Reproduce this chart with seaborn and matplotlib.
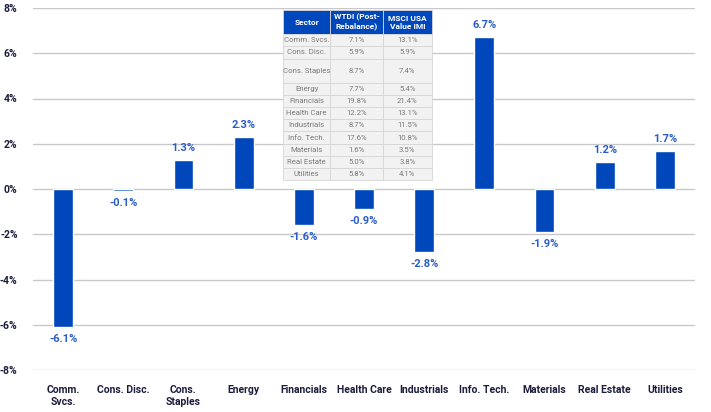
import matplotlib
matplotlib.use("Agg")
import matplotlib.pyplot as plt
import seaborn as sns
import pandas as pd

# sector active weights (WTDI minus benchmark)
sectors = ["Comm.\nSvcs.", "Cons. Disc.", "Cons.\nStaples", "Energy", "Financials",
           "Health Care", "Industrials", "Info. Tech.", "Materials", "Real Estate", "Utilities"]
diff = [-6.1, -0.1, 1.3, 2.3, -1.6, -0.9, -2.8, 6.7, -1.9, 1.2, 1.7]

# inset table
tbl_sectors = ["Comm. Svcs.", "Cons. Disc.", "Cons. Staples", "Energy", "Financials",
               "Health Care", "Industrials", "Info. Tech.", "Materials", "Real Estate", "Utilities"]
wtdi = ["7.1%", "5.9%", "8.7%", "7.7%", "19.8%", "12.2%", "8.7%", "17.6%", "1.6%", "5.0%", "5.8%"]
msci = ["13.1%", "5.9%", "7.4%", "5.4%", "21.4%", "13.1%", "11.5%", "10.8%", "3.5%", "3.8%", "4.1%"]
tbl_header = ["Sector", "WTDI (Post-\nRebalance)", "MSCI USA\nValue IMI"]

blue = "#0047BB"
navy = "#1c1c3c"

sns.set_style("white")
plt.rcParams['font.family'] = ['Roboto', 'DejaVu Sans']
plt.rcParams['font.weight'] = 'bold'

df = pd.DataFrame({"sector": sectors, "diff": diff})

fig = plt.figure(figsize=(7.11, 4.12), dpi=100)
ax = fig.add_axes([33/711, 1-370/412, (695-33)/711, (370-8)/412])

sns.barplot(data=df, x="sector", y="diff", color=blue, width=0.33,
            saturation=1, ax=ax, zorder=3)

ax.set_ylim(-8, 8)
ax.set_xlim(-0.5, len(sectors) - 0.5)
ax.set_yticks(range(-8, 9, 2))
ax.set_yticklabels([f"{v}%" for v in range(-8, 9, 2)])
ax.grid(axis="y", color="#c8c8cc", linewidth=1, zorder=0)
ax.set_axisbelow(True)
for s in ax.spines.values():
    s.set_visible(False)
ax.set_xlabel("")
ax.set_ylabel("")
ax.tick_params(axis="both", length=0, labelcolor=navy, labelsize=7.5)
ax.tick_params(axis="x", pad=11)
ax.tick_params(axis="y", pad=11)
for lab in ax.get_xticklabels() + ax.get_yticklabels():
    lab.set_fontweight("bold")

ax.bar_label(ax.containers[0], labels=[f"{v:.1f}%" for v in diff], padding=5,
             color="#2a5cc8", fontsize=8, fontweight="bold")

# inset table
tax = fig.add_axes([283/711, 1-180/412, (432-283)/711, (180-10)/412])
tax.axis("off")
cells = [[s, w, m] for s, w, m in zip(tbl_sectors, wtdi, msci)]
table = tax.table(cellText=cells, colLabels=tbl_header, bbox=[0, 0, 1, 1],
                  cellLoc="center")
table.auto_set_font_size(False)
col_w = [47, 52, 49]
for (r, c), cell in table.get_celld().items():
    cell.set_edgecolor("#d6d6d6")
    cell.set_linewidth(0.6)
    cell.PAD = 0.02
    if r == 0:
        cell.set_facecolor(blue)
        cell.set_height(2)
        cell.get_text().set_color("white")
        cell.get_text().set_fontweight("bold")
        cell.get_text().set_fontsize(6)
    else:
        cell.set_facecolor("#f2f2f2")
        cell.set_height(2 if tbl_sectors[r-1] == "Cons. Staples" else 1)
        cell.get_text().set_color("#7a7a7a")
        cell.get_text().set_fontweight("normal")
        cell.get_text().set_fontsize(5.6)
    cell.set_width(col_w[c])

fig.savefig("out.png", dpi=100)
